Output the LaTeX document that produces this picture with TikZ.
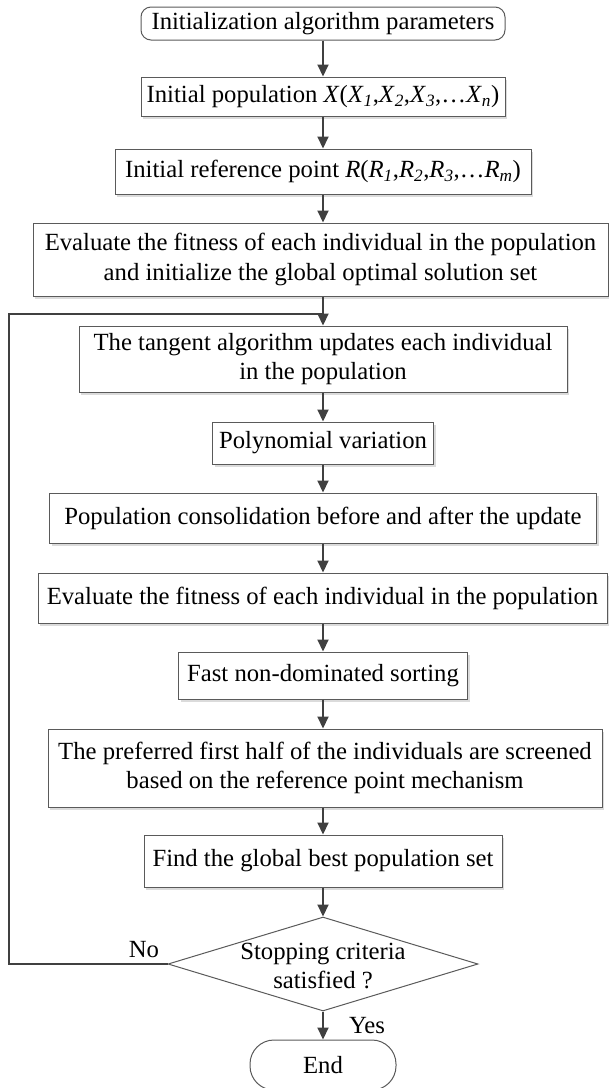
\documentclass[tikz,border=0pt]{standalone}
\usepackage{fontspec}
\setmainfont{Liberation Serif}
\usetikzlibrary{arrows.meta,shapes.geometric,shadows}
\definecolor{boxgray}{HTML}{5A5A5A}
\definecolor{conngray}{HTML}{404040}
\newcommand{\fsz}{\fontsize{24.7}{29.6}\selectfont}
\tikzset{
  box/.style={draw=boxgray, line width=1pt, fill=white, inner sep=0pt, align=center, font=\fsz,
    drop shadow={shadow xshift=2pt, shadow yshift=-2.5pt, fill=black!14, opacity=1}},
  rbox/.style={draw=boxgray, line width=1pt, fill=white, inner sep=0pt, align=center, font=\fsz, rounded corners=10pt},
  conn/.style={draw=conngray, line width=2pt, -{Triangle[length=12pt,width=11pt]}},
  plain/.style={draw=conngray, line width=2pt},
  lbl/.style={font=\fsz, inner sep=0pt}
}
\begin{document}
\begin{tikzpicture}[x=1pt,y=-1pt]
\useasboundingbox (0,0) rectangle (609,1088);
\node[rbox, minimum width=364pt, minimum height=33pt] (b1) at (323,23.5) {Initialization algorithm parameters};
\node[box, minimum width=364pt, minimum height=39pt] (b2) at (323,96.5) {Initial population \textit{X}(\textit{X}\textsubscript{\textit{1}},\textit{X}\textsubscript{\textit{2}},\textit{X}\textsubscript{\textit{3}},…\textit{X}\textsubscript{\textit{n}})};
\node[box, minimum width=416pt, minimum height=45pt] (b3) at (323,171.5) {Initial reference point \textit{R}(\textit{R}\textsubscript{\textit{1}},\textit{R}\textsubscript{\textit{2}},\textit{R}\textsubscript{\textit{3}},…\textit{R}\textsubscript{\textit{m}})};
\node[box, minimum width=575pt, minimum height=73pt] (b4) at (320.5,259.5) {Evaluate the fitness of each individual in the population\\and initialize the global optimal solution set};
\node[box, minimum width=488pt, minimum height=66pt] (b5) at (323,359) {The tangent algorithm updates each individual\\in the population};
\node[box, minimum width=221pt, minimum height=42pt] (b6) at (323,443) {Polynomial variation};
\node[box, minimum width=547pt, minimum height=50pt] (b7) at (323,518) {Population consolidation before and after the update};
\node[box, minimum width=569pt, minimum height=50pt] (b8) at (322.5,598) {Evaluate the fitness of each individual in the population};
\node[box, minimum width=289pt, minimum height=47pt] (b9) at (323,675.5) {Fast non-dominated sorting};
\node[box, minimum width=554pt, minimum height=78pt] (b10) at (325,768) {The preferred first half of the individuals are screened\\based on the reference point mechanism};
\node[box, minimum width=358pt, minimum height=52pt] (b11) at (323,861) {Find the global best population set};
\node[draw=boxgray, line width=1pt, fill=white, diamond, minimum width=310pt, minimum height=94pt, inner sep=0pt] (d) at (323,964) {};
\node[lbl, align=center] (dt) at (323,966) {Stopping criteria\\satisfied ?};
\node[draw=boxgray, line width=1pt, fill=white, rounded corners=24pt, minimum width=146pt, minimum height=50pt, inner sep=0pt, font=\fsz] (e) at (323,1065) {End};
\coordinate (lc) at (9,314);
\draw[conn] (b1.south) -- (b1.south |- b2.north);
\draw[conn] (b2.south) -- (b2.south |- b3.north);
\draw[conn] (b3.south) -- (b3.south |- b4.north);
\draw[conn] (b3.south |- b4.south) -- (b3.south |- b5.north);
\draw[conn] (b5.south) -- (b5.south |- b6.north);
\draw[conn] (b6.south) -- (b6.south |- b7.north);
\draw[conn] (b6.south |- b7.south) -- (b6.south |- b8.north);
\draw[conn] (b9.north |- b8.south) -- (b9.north);
\draw[conn] (b9.south) -- (b9.south |- b10.north);
\draw[conn] (b11.north |- b10.south) -- (b11.north);
\draw[conn] (b11.south) -- (d.north);
\draw[conn] (d.south) -- (e.north);
\draw[plain] (d.west) -| (lc) -- (lc -| b5.north);
\node[lbl] (no) at (144,950) {No};
\node[lbl] (yes) at (367,1026) {Yes};
\end{tikzpicture}
\end{document}
